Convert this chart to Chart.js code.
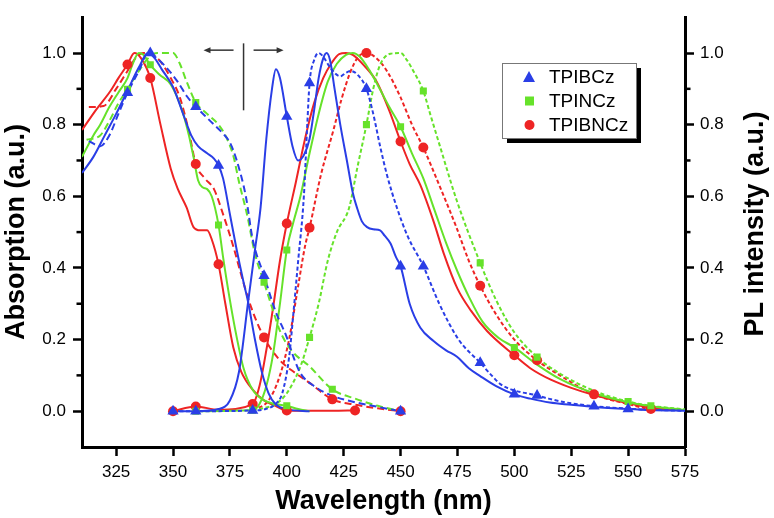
<!DOCTYPE html>
<html><head><meta charset="utf-8">
<script src="https://cdn.jsdelivr.net/npm/chart.js@4.4.1/dist/chart.umd.min.js"></script>
<style>html,body{margin:0;padding:0;background:#fff}#wrap{width:774px;height:518px;position:relative}</style>
</head><body><div id="wrap"><canvas id="c" width="774" height="518"></canvas></div>
<script>
// ---- axis ticks ----
const xTicks = [325,350,375,400,425,450,475,500,525,550,575];
const yTicks = [0,0.2,0.4,0.6,0.8,1.0];
const yMinor = [0.1,0.3,0.5,0.7,0.9];
const seriesNames = ['TPIBCz','TPINCz','TPIBNCz'];

// ---- TPIBCz ----
const blueAbsSolidX = [310,315,320,325,330,335,339,342,345,350,355,358,361,365,368,370,372,375,378,381,383,386,389,392,395,400,410];
const blueAbsSolidY = [0.665,0.71,0.77,0.83,0.895,0.96,1.0,0.985,0.955,0.905,0.82,0.77,0.74,0.72,0.705,0.686,0.65,0.55,0.45,0.36,0.305,0.2,0.11,0.05,0.02,0.005,0];
const blueAbsDashX = [313,318,322,326,330,335,339,343,347,352,356,360,364,368,372,375,378,382,385,390,395,400,403,406,412,420,430,440,450];
const blueAbsDashY = [0.754,0.74,0.77,0.83,0.889,0.95,1.0,0.985,0.96,0.92,0.88,0.85,0.825,0.80,0.775,0.75,0.70,0.60,0.48,0.378,0.28,0.206,0.15,0.106,0.07,0.043,0.025,0.012,0];
const bluePLSolidX = [350,360,370,375,379,383,386,388.5,391,393.5,395.2,397,400,402.5,405,407.5,410,412,414,416,417.5,419,421,423.5,426.4,429,431,433,435.3,438,441,443,445.6,448,450,454,458.7,464.5,470,474.8,480,485,492,500,507,515.6,525,535,550,560,575];
const bluePLSolidY = [0,0,0.006,0.03,0.11,0.305,0.45,0.57,0.76,0.9,0.955,0.93,0.823,0.74,0.70,0.715,0.76,0.84,0.93,0.985,1.0,0.98,0.9,0.8,0.70,0.61,0.565,0.53,0.514,0.508,0.505,0.49,0.468,0.43,0.405,0.30,0.233,0.196,0.17,0.152,0.12,0.098,0.07,0.047,0.035,0.024,0.018,0.012,0.006,0.003,0.001];
const bluePLDashX = [350,360,385,390,395,398,401,403,405,407.5,409,410,412,414,416,419,423.5,426,428,431,435,438,441,444,448.4,453,460,467,475.5,485,490,494,500,510,515,525,535,550,560,575];
const bluePLDashY = [0,0,0.002,0.005,0.02,0.05,0.15,0.28,0.42,0.6,0.8,0.916,0.98,1.0,0.99,0.96,0.935,0.945,0.95,0.94,0.90,0.83,0.74,0.66,0.568,0.49,0.405,0.30,0.2,0.135,0.1,0.075,0.058,0.044,0.035,0.022,0.014,0.007,0.004,0.001];
const blueMarkX = [330,340,360,370,390,450,350,360,385,400,410,435,450,460,485,500,510,535,550];
const blueMarkY = [0.889,1.0,0.85,0.686,0.378,0,0,0,0.002,0.823,0.916,0.90,0.405,0.405,0.135,0.047,0.044,0.014,0.006];

// ---- TPINCz ----
const greenAbsSolidX = [310,315,318,322,326,330,332,335,337,340,344,349,354,357,359,361,363,365,367,370,372,375,378,381,385,390,395,400,405,410];
const greenAbsSolidY = [0.71,0.77,0.80,0.849,0.89,0.93,0.965,1.0,0.995,0.967,0.94,0.912,0.84,0.77,0.71,0.645,0.625,0.62,0.60,0.52,0.43,0.31,0.206,0.12,0.06,0.03,0.02,0.015,0.006,0];
const greenAbsDashX = [312,318,322,326,330,335,339,343,347,350,353,356,360,365,370,373,376.5,379,382.5,386,390,394,397,402,410,420,430,440,450];
const greenAbsDashY = [0.758,0.77,0.81,0.86,0.899,0.95,0.985,1.0,1.0,1.0,0.97,0.92,0.862,0.83,0.80,0.77,0.713,0.64,0.55,0.44,0.36,0.28,0.224,0.17,0.125,0.061,0.035,0.015,0];
const greenPLSolidX = [360,385,388,391,394,397,400,403,406,410,414,418,422,426,429,432,436,440,445,450,455,460,465,470,475,480,486,493,500,510,520,535,550,560,575];
const greenPLSolidY = [0,0.003,0.02,0.07,0.16,0.3,0.45,0.53,0.6,0.72,0.83,0.92,0.97,0.995,1.0,0.99,0.955,0.91,0.85,0.794,0.72,0.65,0.56,0.47,0.39,0.32,0.25,0.205,0.178,0.13,0.09,0.05,0.025,0.014,0.004];
const greenPLDashX = [385,395,400,406,410,414,418,422,427.4,431,435,438,441,445.5,450,452.8,455.6,460,463,467.3,474.8,485,492,500,510,520,535,550,560,575];
const greenPLDashY = [0.003,0.02,0.05,0.125,0.206,0.3,0.42,0.5,0.568,0.68,0.80,0.9,0.967,0.998,1.0,0.98,0.95,0.894,0.83,0.74,0.586,0.414,0.31,0.22,0.151,0.105,0.057,0.027,0.015,0.005];
const greenMarkX = [330,340,360,370,390,400,420,360,385,400,410,435,450,460,485,500,510,550,560];
const greenMarkY = [0.899,0.967,0.862,0.52,0.36,0.015,0.061,0,0.003,0.45,0.206,0.80,0.794,0.894,0.414,0.178,0.151,0.027,0.015];

// ---- TPIBNCz ----
const redAbsSolidX = [310,316,322.5,326,330,333,336,340,344.5,349,352,356,359,362,365,367,370,373,376.5,380,385,390,395,400,410,420,430];
const redAbsSolidY = [0.785,0.84,0.894,0.93,0.968,1.0,0.985,0.93,0.80,0.677,0.622,0.568,0.514,0.505,0.505,0.48,0.41,0.3,0.178,0.11,0.06,0.03,0.015,0.002,0.001,0.001,0.002];
const redAbsDashX = [313,319.5,325,330,334,337,341,344.5,349,353,357,360,364,368,372,376.5,380,384,390,397,403,410,420,430,440,450];
const redAbsDashY = [0.849,0.852,0.90,0.95,0.99,1.0,0.995,0.976,0.93,0.876,0.78,0.69,0.65,0.62,0.55,0.46,0.38,0.296,0.206,0.142,0.11,0.079,0.033,0.018,0.008,0];
const redPLSolidX = [350,360,370,385,388,391,394,397,400,404,408,412,416,420,423,426,429,434,439.5,445,450,454,458.7,464.5,469,475,481,488,500,507,516,525,535,550,560,575];
const redPLSolidY = [0,0.013,0.004,0.02,0.07,0.17,0.29,0.42,0.524,0.64,0.76,0.86,0.93,0.975,0.997,1.0,0.995,0.965,0.92,0.84,0.753,0.69,0.631,0.53,0.44,0.342,0.28,0.224,0.156,0.12,0.088,0.065,0.045,0.022,0.01,0.003];
const redPLDashX = [385,392,397,401,405,408,410,415,420.5,424,428,431.5,435,439.5,444,450,455,460,467,474.5,480,485,492,500,510,520,535,550,560,575];
const redPLDashY = [0.003,0.03,0.1,0.2,0.35,0.46,0.512,0.66,0.785,0.87,0.948,0.99,1.0,0.985,0.95,0.876,0.8,0.736,0.631,0.514,0.42,0.35,0.27,0.2,0.142,0.1,0.047,0.02,0.006,0.003];
const redMarkX = [330,340,360,370,390,400,420,430,450,350,360,385,400,410,435,450,460,485,500,510,535,560];
const redMarkY = [0.968,0.93,0.69,0.41,0.206,0.002,0.033,0.002,0,0,0.013,0.02,0.524,0.512,1.0,0.753,0.736,0.35,0.156,0.142,0.047,0.006];

const BLUE = '#2a3ee6', GREEN = '#66e22a', RED = '#ee2424';
const pts = (xs, ys) => xs.map((x, i) => ({x, y: ys[i]}));

function line(xs, ys, color, dash) {
  return {data: pts(xs, ys), borderColor: color, borderWidth: 2, borderDash: dash,
    pointRadius: 0, fill: false, cubicInterpolationMode: 'monotone', order: 1, showLine: true};
}
function marks(xs, ys, color, style, r) {
  return {data: pts(xs, ys), showLine: false, pointStyle: style, pointRadius: r, pointHoverRadius: r,
    backgroundColor: color, borderColor: color, borderWidth: 0, order: 0};
}
const SOLID = [], ABSDASH = [7, 4], PLDASH = [4, 2.5];

const datasets = [
  line(blueAbsSolidX, blueAbsSolidY, BLUE, SOLID),
  line(blueAbsDashX, blueAbsDashY, BLUE, ABSDASH),
  line(bluePLSolidX, bluePLSolidY, BLUE, SOLID),
  line(bluePLDashX, bluePLDashY, BLUE, PLDASH),
  line(greenAbsSolidX, greenAbsSolidY, GREEN, SOLID),
  line(greenAbsDashX, greenAbsDashY, GREEN, ABSDASH),
  line(greenPLSolidX, greenPLSolidY, GREEN, SOLID),
  line(greenPLDashX, greenPLDashY, GREEN, PLDASH),
  line(redAbsSolidX, redAbsSolidY, RED, SOLID),
  line(redAbsDashX, redAbsDashY, RED, ABSDASH),
  line(redPLSolidX, redPLSolidY, RED, SOLID),
  line(redPLDashX, redPLDashY, RED, PLDASH),
  marks(blueMarkX, blueMarkY, BLUE, 'triangle', 6.5),
  marks(greenMarkX, greenMarkY, GREEN, 'rect', 5),
  marks(redMarkX, redMarkY, RED, 'circle', 5)
];

const FONT = "'Liberation Sans', Arial, sans-serif";

const extras = {
  id: 'extras',
  afterDraw(chart) {
    const ctx = chart.ctx, xs = chart.scales.x, ys = chart.scales.y;
    const ca = chart.chartArea;
    ctx.save();
    // minor ticks
    ctx.strokeStyle = '#000'; ctx.lineWidth = 2.5;
    yMinor.forEach(v => {
      const py = ys.getPixelForValue(v);
      ctx.beginPath(); ctx.moveTo(ca.left - 5.5, py); ctx.lineTo(ca.left, py); ctx.stroke();
      ctx.beginPath(); ctx.moveTo(ca.right, py); ctx.lineTo(ca.right + 5.5, py); ctx.stroke();
    });
    // arrow annotation
    ctx.strokeStyle = '#333'; ctx.fillStyle = '#333'; ctx.lineWidth = 1.5;
    const vx = xs.getPixelForValue(381);
    ctx.beginPath(); ctx.moveTo(vx, ys.getPixelForValue(1.027)); ctx.lineTo(vx, ys.getPixelForValue(0.84)); ctx.stroke();
    const ay = ys.getPixelForValue(1.008);
    const l1 = xs.getPixelForValue(363.4), l2 = xs.getPixelForValue(376.6);
    const r1 = xs.getPixelForValue(385.4), r2 = xs.getPixelForValue(398.6);
    ctx.beginPath(); ctx.moveTo(l1 + 5, ay); ctx.lineTo(l2, ay); ctx.stroke();
    ctx.beginPath(); ctx.moveTo(l1, ay); ctx.lineTo(l1 + 7, ay - 3); ctx.lineTo(l1 + 7, ay + 3); ctx.closePath(); ctx.fill();
    ctx.beginPath(); ctx.moveTo(r1, ay); ctx.lineTo(r2 - 5, ay); ctx.stroke();
    ctx.beginPath(); ctx.moveTo(r2, ay); ctx.lineTo(r2 - 7, ay - 3); ctx.lineTo(r2 - 7, ay + 3); ctx.closePath(); ctx.fill();
    // legend
    const bx = 502, by = 63, bw = 134, bh = 75;
    ctx.fillStyle = '#000'; ctx.fillRect(bx + 5, by + 5, bw, bh);
    ctx.fillStyle = '#fff'; ctx.fillRect(bx, by, bw, bh);
    ctx.strokeStyle = '#777'; ctx.lineWidth = 1; ctx.strokeRect(bx + 0.5, by + 0.5, bw, bh);
    const colors = [BLUE, GREEN, RED], styles = ['triangle', 'rect', 'circle'];
    ctx.font = '19px ' + FONT; ctx.textBaseline = 'middle'; ctx.textAlign = 'left';
    seriesNames.forEach((n, i) => {
      const yy = by + 14 + i * 24;
      ctx.fillStyle = colors[i];
      if (styles[i] === 'triangle') { ctx.beginPath(); ctx.moveTo(529, yy - 6); ctx.lineTo(535, yy + 5); ctx.lineTo(523, yy + 5); ctx.closePath(); ctx.fill(); }
      else if (styles[i] === 'rect') { ctx.fillRect(525, yy - 4.5, 9, 9); }
      else { ctx.beginPath(); ctx.arc(529.5, yy, 5, 0, Math.PI * 2); ctx.fill(); }
      ctx.fillStyle = '#000'; ctx.fillText(n, 549, yy + 1);
    });
    // right axis title (reads bottom to top)
    ctx.font = 'bold 27px ' + FONT; ctx.fillStyle = '#000'; ctx.textAlign = 'center'; ctx.textBaseline = 'middle';
    ctx.translate(756, (ca.top + ca.bottom) / 2 - 8); ctx.rotate(-Math.PI / 2);
    ctx.fillText('PL intensity (a.u.)', 0, 0);
    ctx.restore();
  }
};

const tickGrid = {display: true, drawOnChartArea: false, drawTicks: true, tickLength: 9, tickWidth: 2.5, tickColor: '#000'};
const border = {display: true, width: 3, color: '#000'};
const yLabel = v => { const s = yTicks.find(t => Math.abs(t - v) < 1e-6); return s === undefined ? '' : s.toFixed(1); };

new Chart(document.getElementById('c'), {
  type: 'scatter',
  data: {datasets},
  options: {
    responsive: false, animation: false, devicePixelRatio: 1,
    layout: {padding: {top: 4, left: 0, right: 0, bottom: 0}},
    plugins: {legend: {display: false}, tooltip: {enabled: false}},
    scales: {
      x: {type: 'linear', min: 310, max: 575, position: 'bottom',
        afterBuildTicks: s => { s.ticks = xTicks.map(v => ({value: v})); },
        afterFit: s => { s.height = 71; },
        ticks: {font: {family: FONT, size: 17}, color: '#000', padding: 6, maxRotation: 0, autoSkip: false, callback: v => String(v)},
        grid: tickGrid, border,
        title: {display: true, text: 'Wavelength (nm)', color: '#000', font: {family: FONT, size: 27, weight: 'bold'}, padding: {top: 0, bottom: 0}}},
      y: {type: 'linear', min: -0.1, max: 1.1, position: 'left',
        afterBuildTicks: s => { s.ticks = yTicks.map(v => ({value: v})); },
        afterFit: s => { s.width = 82; },
        ticks: {font: {family: FONT, size: 17}, color: '#000', padding: 7, autoSkip: false, callback: yLabel},
        grid: tickGrid, border,
        title: {display: true, text: 'Absorption (a.u.)', color: '#000', font: {family: FONT, size: 27, weight: 'bold'}, padding: {top: 0, bottom: 0}}},
      y2: {type: 'linear', min: -0.1, max: 1.1, position: 'right',
        afterBuildTicks: s => { s.ticks = yTicks.map(v => ({value: v})); },
        afterFit: s => { s.width = 89; },
        ticks: {font: {family: FONT, size: 17}, color: '#000', padding: 6, autoSkip: false, callback: yLabel},
        grid: tickGrid, border}
    }
  },
  plugins: [extras]
});
</script></body></html>
